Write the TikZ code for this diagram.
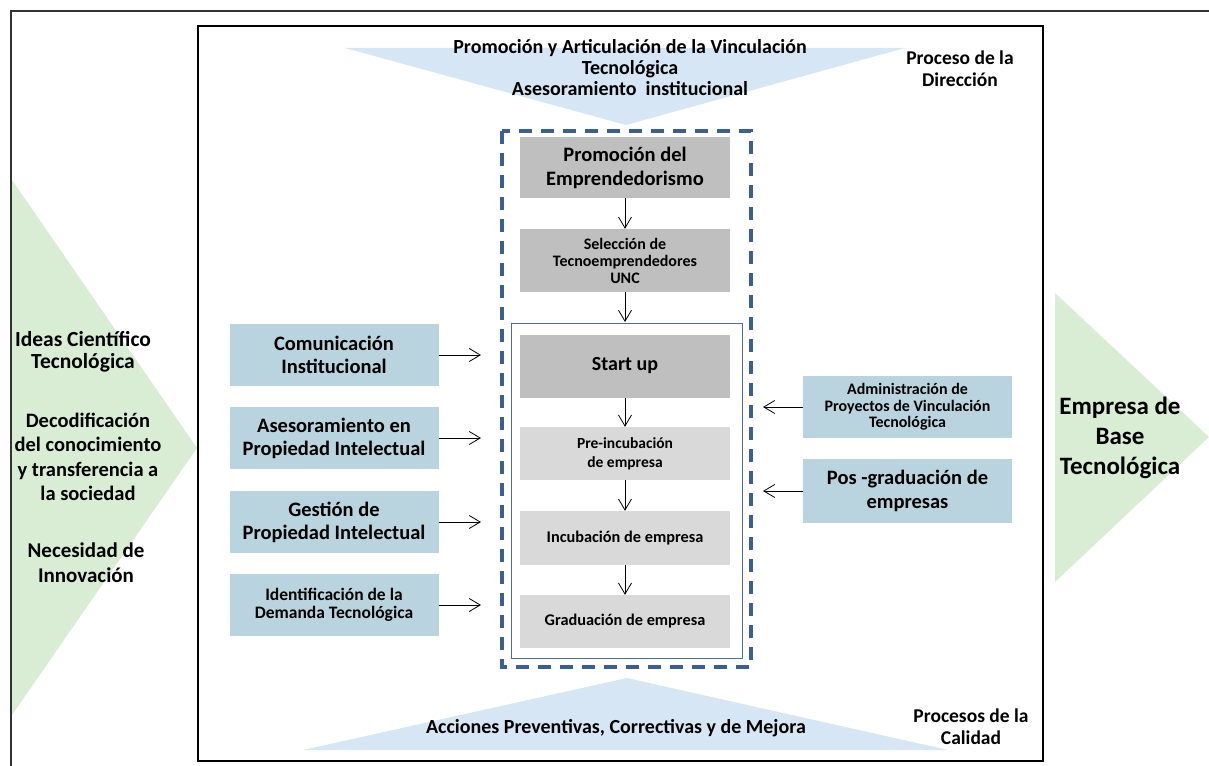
\documentclass[tikz,border=0pt]{standalone}
\usepackage{fontspec}
\setmainfont{Carlito}
\usetikzlibrary{arrows.meta}

\definecolor{triblue}{HTML}{D6E6F4}
\definecolor{trigreen}{HTML}{D9ECD4}
\definecolor{boxblue}{HTML}{B9D4DE}
\definecolor{boxgray}{HTML}{BFBFBF}
\definecolor{boxlight}{HTML}{D9D9D9}
\definecolor{dashblue}{HTML}{3D5F8F}
\definecolor{frameblue}{HTML}{4A6CA0}

\newcommand{\fs}[2]{\bfseries\fontsize{#1}{#2}\selectfont}

\tikzset{
  stage/.style={fill=boxgray, minimum width=210pt, inner sep=0pt, align=center},
  stagelight/.style={stage, fill=boxlight},
  support/.style={fill=boxblue, minimum width=209pt, minimum height=62pt, inner sep=0pt, align=center},
  label/.style={align=center, inner sep=0pt},
  arr/.style={-{Straight Barb[length=11pt,width=13pt]}, line width=0.8pt}
}

\begin{document}
\begin{tikzpicture}[x=1pt,y=-1pt]
  \useasboundingbox (0,0) rectangle (1209,765);

  % frames
  \draw[line width=1.2pt, black!80] (11,780) -- (11,11) -- (1220,11);
  \draw[line width=2.2pt] (198,26) rectangle (1043,761);

  % chevrons
  \fill[trigreen] (12,180) -- (197,448) -- (12,715) -- cycle;
  \fill[trigreen] (1055,293) -- (1209,437) -- (1055,582) -- cycle;
  \fill[triblue] (345,48) -- (905,48) -- (626,125) -- cycle;
  \fill[triblue] (303,750) -- (948,750) -- (627,678) -- cycle;

  % process texts
  \node[label, font=\fs{20}{21}] (direc) at (630,68)
    {Promoción y Articulación de la Vinculación\\ Tecnológica\\ Asesoramiento\ \ institucional};
  \node[label, font=\fs{19.5}{22}] (procdir) at (960,69) {Proceso de la\\ Dirección};
  \node[label, font=\fs{20}{21}] (mejora) at (616,728) {Acciones Preventivas, Correctivas y de Mejora};
  \node[label, font=\fs{19.5}{22}] (proccal) at (971,727) {Procesos de la\\ Calidad};

  % inputs and output
  \node[label, font=\fs{21.5}{22}] (ideas) at (83,352) {Ideas Científico\\ Tecnológica};
  \node[label, font=\fs{20.5}{24.5}] (decod) at (88,457) {Decodificación\\ del conocimiento\\ y transferencia a\\ la sociedad};
  \node[label, font=\fs{21}{25}] (neces) at (86,563) {Necesidad de\\ Innovación};
  \node[label, font=\fs{25}{30}] (ebt) at (1120,438) {Empresa de\\ Base\\ Tecnológica};

  % core process
  \draw[dashblue, line width=3.5pt, dash pattern=on 13pt off 9pt] (502,131) rectangle (751,667);
  \draw[frameblue, line width=1pt] (511,323) rectangle (742,658);

  \node[stage, minimum height=61pt, font=\fs{20.5}{24}] (promo) at (625,167.5) {Promoción del\\ Emprendedorismo};
  \node[stage, minimum height=63pt, font=\fs{16}{17}] (selec) at (625,260.5) {Selección de\\ Tecnoemprendedores\\ UNC};
  \node[stage, minimum height=63pt, font=\fs{20}{22}] (start) at (625,366) {Start up};
  \node[stagelight, minimum height=53pt, font=\fs{15.5}{19}] (preinc) at (625,453.5) {Pre-incubación\\ de empresa};
  \node[stagelight, minimum height=54pt, font=\fs{16.3}{17}] (incub) at (625,538) {Incubación de empresa};
  \node[stagelight, minimum height=53pt, font=\fs{16.3}{17}] (grad) at (625,621.5) {Graduación de empresa};

  \draw[arr] (promo) -- (selec);
  \draw[arr] (selec) -- (start.north |- 0,322);
  \draw[arr] (start) -- (preinc);
  \draw[arr] (preinc) -- (incub);
  \draw[arr] (incub) -- (grad);

  % support processes
  \node[support, font=\fs{20.5}{23}] (comun) at (334,355) {Comunicación\\ Institucional};
  \node[support, font=\fs{20.5}{23}] (aseso) at (334,438) {Asesoramiento en\\ Propiedad Intelectual};
  \node[support, font=\fs{20.5}{23}] (gestion) at (334,522) {Gestión de\\ Propiedad Intelectual};
  \node[support, font=\fs{17.5}{17.5}] (demanda) at (334,605) {Identificación de la\\ Demanda Tecnológica};
  \node[support, font=\fs{16}{16.5}] (admin) at (907.5,407) {Administración de\\ Proyectos de Vinculación\\ Tecnológica};
  \node[support, minimum height=64pt, font=\fs{20.5}{24}] (posgrad) at (907.5,491) {Pos -graduación de\\ empresas};

  \coordinate (incomun) at (481,355);
  \coordinate (inaseso) at (481,438);
  \coordinate (ingestion) at (481,522);
  \coordinate (indemanda) at (481,605);
  \coordinate (inadmin) at (763,407);
  \coordinate (inposgrad) at (763,491);

  \draw[arr] (comun) -- (incomun);
  \draw[arr] (aseso) -- (inaseso);
  \draw[arr] (gestion) -- (ingestion);
  \draw[arr] (demanda) -- (indemanda);
  \draw[arr] (admin) -- (inadmin);
  \draw[arr] (posgrad) -- (inposgrad);
\end{tikzpicture}
\end{document}
